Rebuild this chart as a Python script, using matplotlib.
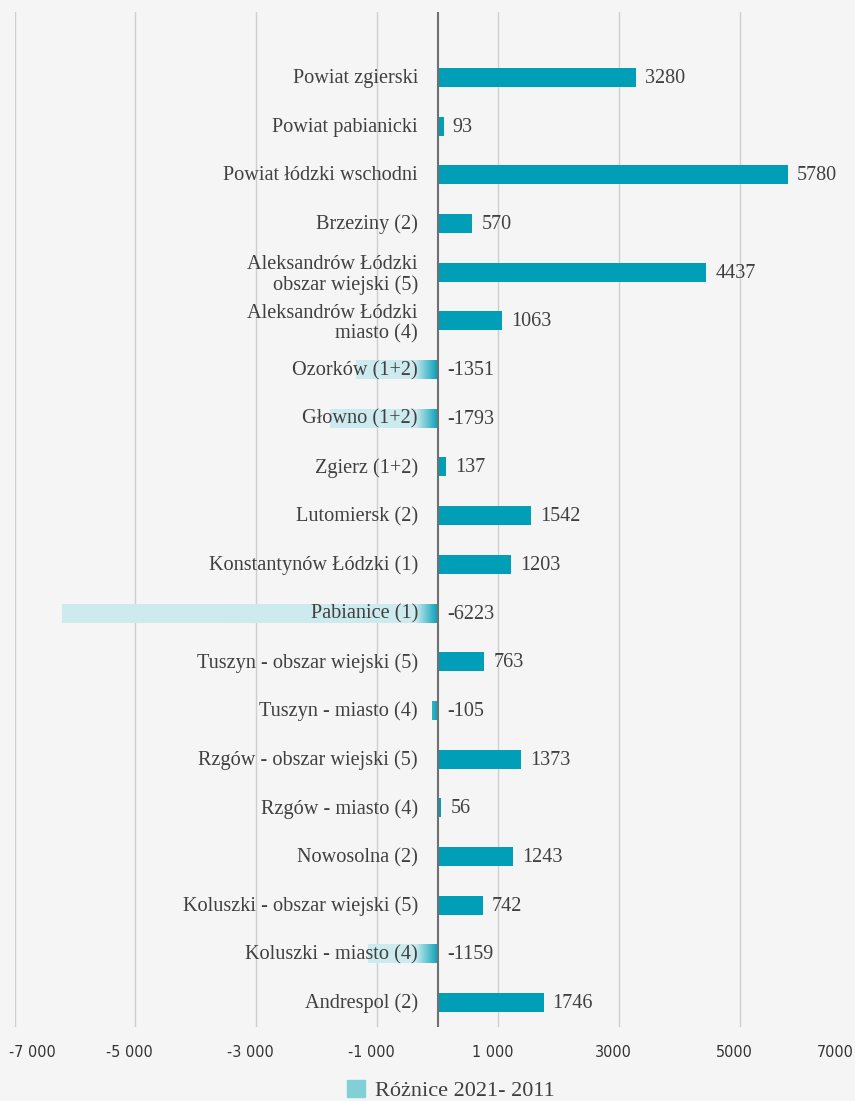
import matplotlib
matplotlib.use("Agg")
import matplotlib.pyplot as plt
import matplotlib.transforms as mtransforms
from matplotlib.patches import Patch
from matplotlib.colors import to_rgb
import numpy as np

# gminy / powiaty, top to bottom
categories = [
    "Powiat zgierski",
    "Powiat pabianicki",
    "Powiat łódzki wschodni",
    "Brzeziny (2)",
    "Aleksandrów Łódzki\nobszar wiejski (5)",
    "Aleksandrów Łódzki\nmiasto (4)",
    "Ozorków (1+2)",
    "Głowno (1+2)",
    "Zgierz (1+2)",
    "Lutomiersk (2)",
    "Konstantynów Łódzki (1)",
    "Pabianice (1)",
    "Tuszyn - obszar wiejski (5)",
    "Tuszyn - miasto (4)",
    "Rzgów - obszar wiejski (5)",
    "Rzgów - miasto (4)",
    "Nowosolna (2)",
    "Koluszki - obszar wiejski (5)",
    "Koluszki - miasto (4)",
    "Andrespol (2)",
]
roznice = [3280, 93, 5780, 570, 4437, 1063, -1351, -1793, 137, 1542,
           1203, -6223, 763, -105, 1373, 56, 1243, 742, -1159, 1746]

xticks = [-7000, -5000, -3000, -1000, 1000, 3000, 5000, 7000]
xticklabels = ["-7 000", "-5 000", "-3 000", "-1 000", "1 000", "3000", "5000", "7000"]
legend_label = "Różnice 2021- 2011"

BG = "#f5f5f5"
TEAL = "#009fb7"
LIGHT = "#cdebee"
LEGEND_C = "#80d0d6"
TXT = "#404040"
SERIF = ["Liberation Serif", "DejaVu Serif"]

fig = plt.figure(figsize=(8.55, 11.01), dpi=100, facecolor=BG)
ax = fig.add_axes([0.01696, 0.0672, 0.9906, 0.9219], facecolor=BG)

y = np.arange(len(categories))
h = 0.39

# positive bars plain, negative ones get a fade towards zero
pos = [v if v > 0 else 0 for v in roznice]
ax.barh(y, pos, height=h, color=TEAL, zorder=2)

teal = np.array(to_rgb(TEAL))
light = np.array(to_rgb(LIGHT))
G = 380.0
for i, v in enumerate(roznice):
    if v >= 0:
        continue
    xs = np.linspace(v, 0, 400)
    t = np.clip(np.abs(xs) / G, 0, 1)[:, None]
    grad = (teal * (1 - t) + light * t)[None, :, :]
    ax.imshow(grad, extent=(v, 0, i + h / 2, i - h / 2), aspect="auto",
              interpolation="bilinear", zorder=2)

ax.axvline(0, color="#707070", lw=1.5, zorder=3)
for xt in xticks:
    ax.axvline(xt, color="#cfcfcf", lw=1.0, zorder=1)

# category names to the left of zero, values to the right of the bar end
for i, (name, v) in enumerate(zip(categories, roznice)):
    dy = -3 if "\n" in name else -1
    ax.annotate(name, (0, i), xytext=(-20, dy), textcoords="offset pixels",
                ha="right", va="center", fontsize=14.6, family=SERIF,
                color=TXT, linespacing=1.12, zorder=4)
    ax.annotate(str(v), (max(v, 0), i), xytext=(9, -1), textcoords="offset pixels",
                ha="left", va="center", fontsize=14.5, family=SERIF,
                color=TXT, zorder=4)

ax.set_xlim(-7000, 7000)
ax.set_ylim(19.503, -1.345)
ax.set_yticks([])
ax.set_xticks(xticks)
ax.set_xticklabels(xticklabels, family="DejaVu Sans", fontstretch="condensed",
                   fontsize=11.5, color="#333333")
ax.tick_params(axis="x", length=0, pad=13)
for s in ax.spines.values():
    s.set_visible(False)

labels = ax.get_xticklabels()
for lab in labels:
    lab.set_transform(lab.get_transform() + mtransforms.ScaledTranslation(-0.06, 0, fig.dpi_scale_trans))
labels[0].set_ha("left")
labels[0].set_transform(labels[0].get_transform() + mtransforms.ScaledTranslation(0.0, 0, fig.dpi_scale_trans))
labels[-1].set_ha("right")
labels[-1].set_transform(labels[-1].get_transform() + mtransforms.ScaledTranslation(-0.02, 0, fig.dpi_scale_trans))

fig.legend(handles=[Patch(color=LEGEND_C, label=legend_label)], loc="center",
           bbox_to_anchor=(0.527, 0.0095), frameon=False,
           prop={"family": SERIF, "size": 16}, handlelength=0.8,
           handleheight=0.8, handletextpad=0.45, labelcolor=TXT,
           borderpad=0.1)

fig.savefig("out.png", dpi=100, facecolor=BG)
